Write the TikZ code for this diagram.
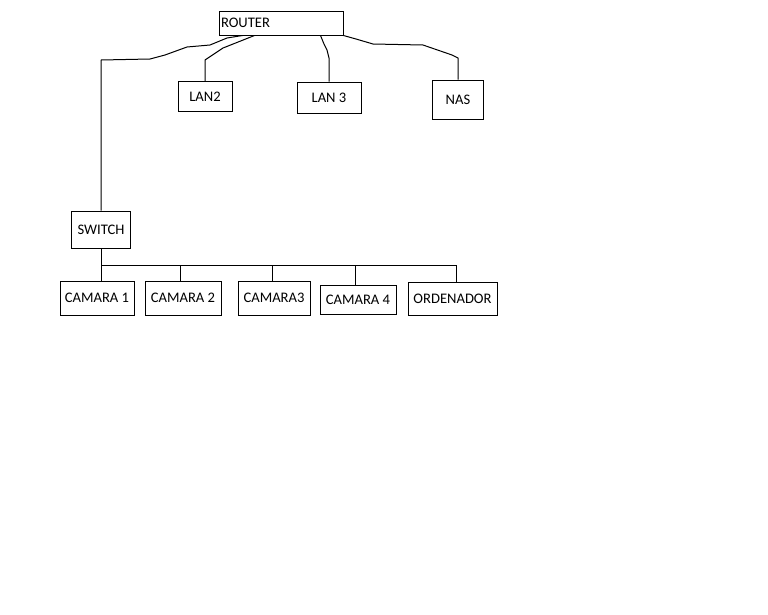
\documentclass[tikz,border=0pt]{standalone}
\usepackage{fontspec}
\setmainfont{Carlito}
\usetikzlibrary{calc}
\begin{document}
\begin{tikzpicture}[x=1pt,y=-1pt,
  box/.style={draw, line width=1pt, inner sep=0pt, font=\fontsize{14.6}{16}\selectfont},
  wire/.style={line width=1pt, line join=round}]
\useasboundingbox (0,0) rectangle (768,614);
\node[box, text width=120pt, inner xsep=2pt, minimum height=24pt, align=left] (router) at (281,23) {ROUTER};
\node[box, minimum width=54pt, minimum height=30pt] (lan2) at (205,96.5) {LAN2};
\node[box, minimum width=64pt, minimum height=31pt] (lan3) at (329,97.5) {LAN 3};
\node[box, minimum width=51pt, minimum height=39pt] (nas) at (458,99.5) {\raisebox{-2.5pt}{NAS}};
\node[box, minimum width=59pt, minimum height=37pt] (switch) at (101,229.5) {\raisebox{-3pt}{SWITCH}};
\node[box, minimum width=74pt, minimum height=34pt] (cam1) at (97,298) {CAMARA 1};
\node[box, minimum width=76pt, minimum height=34pt] (cam2) at (183,298) {CAMARA 2};
\node[box, minimum width=72pt, minimum height=34pt] (cam3) at (274,298) {CAMARA3};
\node[box, minimum width=76pt, minimum height=29pt] (cam4) at (358,299.5) {CAMARA 4};
\node[box, minimum width=89pt, minimum height=33pt] (pc) at (452.5,298.5) {ORDENADOR};
% router wires
\draw[wire] (switch.north) -- (101,60) -- (150,59) -- (165,55) -- (187,47) -- (210,45) -- (227,38) -- ($(router.south west)+(24,0)$);
\draw[wire] (lan2.north) -- (205,60) -- (223,48) -- ($(router.south west)+(36,0)$);
\draw[wire] (lan3.north) -- (329,58) -- (327,50) -- (324,44) -- ($(router.south west)+(102,0)$);
\draw[wire] (nas.north) -- (458,58) -- (452,55) -- (423,45) -- (373,44) -- (356,39) -- (router.south east);
% switch bus
\coordinate (busL) at (101,265);
\coordinate (d2) at (180,265);
\coordinate (d3) at (272,265);
\coordinate (d4) at (355,265);
\coordinate (busR) at (456,265);
\draw[wire] (switch.south) -- (cam1.north -| switch.south);
\draw[wire] (busL) -- (busR);
\draw[wire] (d2) -- (d2 |- cam2.north);
\draw[wire] (d3) -- (d3 |- cam3.north);
\draw[wire] (d4) -- (d4 |- cam4.north);
\draw[wire] (busR) -- (busR |- pc.north);
\end{tikzpicture}
\end{document}
